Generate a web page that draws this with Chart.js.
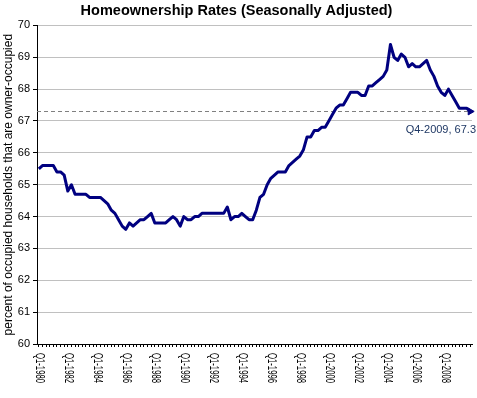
<!DOCTYPE html>
<html>
<head>
<meta charset="utf-8">
<script src="https://cdn.jsdelivr.net/npm/chart.js@4/dist/chart.umd.min.js"></script>
<style>
  html, body { margin: 0; padding: 0; background: #ffffff; }
  #wrap { width: 477px; height: 398px; }
</style>
</head>
<body>
<div id="wrap"><canvas id="c" width="477" height="398"></canvas></div>
<script>
// ---- data ----
const years = [1980,1981,1982,1983,1984,1985,1986,1987,1988,1989,1990,1991,1992,1993,1994,1995,1996,1997,1998,1999,2000,2001,2002,2003,2004,2005,2006,2007,2008,2009];
const quarters = ['Q1','Q2','Q3','Q4'];
const rates = [
  65.5, 65.6, 65.6, 65.6,   // 1980
  65.6, 65.4, 65.4, 65.3,   // 1981
  64.8, 65.0, 64.7, 64.7,   // 1982
  64.7, 64.7, 64.6, 64.6,   // 1983
  64.6, 64.6, 64.5, 64.4,   // 1984
  64.2, 64.1, 63.9, 63.7,   // 1985
  63.6, 63.8, 63.7, 63.8,   // 1986
  63.9, 63.9, 64.0, 64.1,   // 1987
  63.8, 63.8, 63.8, 63.8,   // 1988
  63.9, 64.0, 63.9, 63.7,   // 1989
  64.0, 63.9, 63.9, 64.0,   // 1990
  64.0, 64.1, 64.1, 64.1,   // 1991
  64.1, 64.1, 64.1, 64.1,   // 1992
  64.3, 63.9, 64.0, 64.0,   // 1993
  64.1, 64.0, 63.9, 63.9,   // 1994
  64.2, 64.6, 64.7, 65.0,   // 1995
  65.2, 65.3, 65.4, 65.4,   // 1996
  65.4, 65.6, 65.7, 65.8,   // 1997
  65.9, 66.1, 66.5, 66.5,   // 1998
  66.7, 66.7, 66.8, 66.8,   // 1999
  67.0, 67.2, 67.4, 67.5,   // 2000
  67.5, 67.7, 67.9, 67.9,   // 2001
  67.9, 67.8, 67.8, 68.1,   // 2002
  68.1, 68.2, 68.3, 68.4,   // 2003
  68.6, 69.4, 69.0, 68.9,   // 2004
  69.1, 69.0, 68.7, 68.8,   // 2005
  68.7, 68.7, 68.8, 68.9,   // 2006
  68.6, 68.4, 68.1, 67.9,   // 2007
  67.8, 68.0, 67.8, 67.6,   // 2008
  67.4, 67.4, 67.4, 67.3    // 2009
];
const xTickLabels = ['Q1-1980','Q1-1982','Q1-1984','Q1-1986','Q1-1988','Q1-1990','Q1-1992','Q1-1994','Q1-1996','Q1-1998','Q1-2000','Q1-2002','Q1-2004','Q1-2006','Q1-2008'];
const yTicks = [60,61,62,63,64,65,66,67,68,69,70];
const titleText = 'Homeownership Rates (Seasonally Adjusted)';
const yTitleText = 'percent of occupied households that are owner-occupied';

const categories = [];
years.forEach(y => quarters.forEach(q => categories.push(q + '-' + y)));
const lastIdx = rates.length - 1;
const lastLabel = categories[lastIdx] + ', ' + rates[lastIdx].toFixed(1);

const FONT = 'Arial, "Liberation Sans", sans-serif';

// ---- plugins ----
const refLinePlugin = {
  id: 'refLine',
  beforeDatasetsDraw(chart) {
    const ctx = chart.ctx, a = chart.chartArea;
    const y = chart.scales.y.getPixelForValue(rates[lastIdx]);
    ctx.save();
    ctx.strokeStyle = '#808080';
    ctx.lineWidth = 1;
    ctx.setLineDash([4, 3]);
    ctx.beginPath();
    ctx.moveTo(a.left, Math.round(y) + 0.5);
    ctx.lineTo(a.right, Math.round(y) + 0.5);
    ctx.stroke();
    ctx.restore();
  },
  afterDraw(chart) {
    const ctx = chart.ctx;
    const y = chart.scales.y.getPixelForValue(rates[lastIdx]);
    ctx.save();
    ctx.font = '11px ' + FONT;
    ctx.fillStyle = '#1f3864';
    ctx.textAlign = 'right';
    ctx.textBaseline = 'middle';
    ctx.fillText(lastLabel, 476, y + 19);
    ctx.restore();
  }
};

const xLabelPlugin = {
  id: 'xLabels',
  afterDraw(chart) {
    const ctx = chart.ctx, xs = chart.scales.x;
    ctx.save();
    ctx.font = '12px ' + FONT;
    ctx.fillStyle = '#000';
    xTickLabels.forEach(lbl => {
      const idx = categories.indexOf(lbl);
      if (idx < 0) return;
      const x = xs.getPixelForValue(idx);
      const w = ctx.measureText(lbl).width;
      ctx.save();
      ctx.translate(x, xs.top + 9);
      ctx.rotate(Math.PI / 2);
      ctx.scale(30 / w, 1);
      ctx.textAlign = 'left';
      ctx.textBaseline = 'middle';
      ctx.fillText(lbl, 0, 0);
      ctx.restore();
    });
    ctx.restore();
  }
};

new Chart(document.getElementById('c'), {
  type: 'line',
  data: {
    labels: categories,
    datasets: [{
      data: rates,
      borderColor: '#000080',
      backgroundColor: '#000080',
      borderWidth: 3,
      borderJoinStyle: 'round',
      tension: 0,
      fill: false,
      pointRadius: ctx => ctx.dataIndex === lastIdx ? 4 : 0,
      pointHoverRadius: 0,
      pointStyle: 'triangle',
      pointRotation: 90,
      pointBorderWidth: 1
    }]
  },
  options: {
    responsive: false,
    animation: false,
    events: [],
    layout: { padding: { left: 0, right: 4, top: 0, bottom: 0 } },
    plugins: {
      legend: { display: false },
      tooltip: { enabled: false },
      title: {
        display: true,
        text: titleText,
        color: '#000',
        font: { family: FONT, size: 14.5, weight: 'bold' },
        padding: { top: 2, bottom: 6 }
      }
    },
    scales: {
      x: {
        type: 'category',
        offset: true,
        grid: { display: true, drawOnChartArea: false, offset: false, drawTicks: true, tickLength: 3, tickColor: '#000', color: '#000' },
        border: { display: true, color: '#000', width: 1 },
        ticks: { display: false, autoSkip: false },
        afterFit(s) { s.height = 54; }
      },
      y: {
        min: 60, max: 70,
        afterBuildTicks(s) { s.ticks = yTicks.map(v => ({ value: v })); },
        grid: { color: '#c0c0c0', tickColor: '#000', tickLength: 4, lineWidth: 1 },
        border: { display: true, color: '#000', width: 1 },
        ticks: {
          color: '#000',
          padding: 3,
          font: { family: FONT, size: 11 }
        },
        title: {
          display: true,
          text: yTitleText,
          color: '#000',
          padding: { top: 1, bottom: 1 },
          font: { family: FONT, size: 12 }
        },
        afterFit(s) { s.width = 37; }
      }
    }
  },
  plugins: [refLinePlugin, xLabelPlugin]
});
</script>
</body>
</html>
